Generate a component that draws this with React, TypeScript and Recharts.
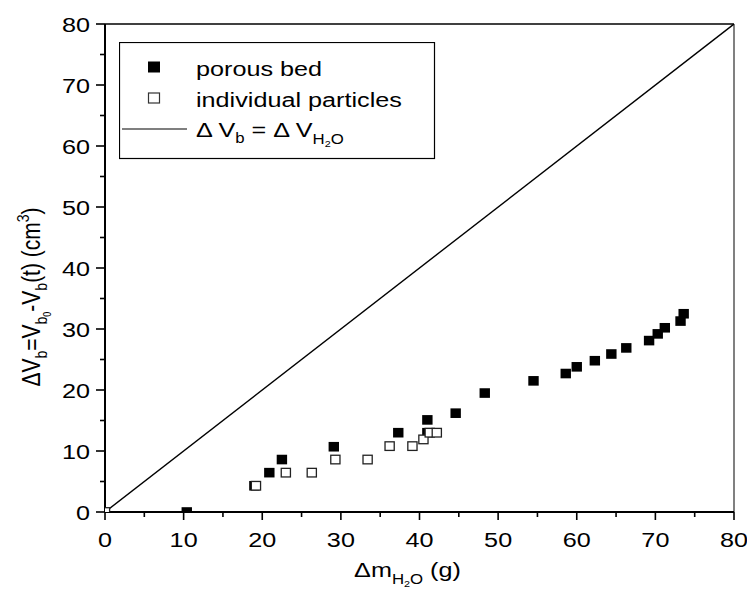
import React from "react";
import {
  ScatterChart,
  Scatter,
  XAxis,
  YAxis,
  ReferenceLine,
  Legend,
} from "recharts";

// ---- data ----
const porousBedX = [10.4, 19.0, 20.9, 22.5, 29.1, 37.3, 41.0, 41.0, 44.6, 48.3, 54.5, 58.6, 60.0, 62.3, 64.4, 66.3, 69.2, 70.3, 71.2, 73.2, 73.6];
const porousBedY = [0.0, 4.3, 6.45, 8.6, 10.7, 13.0, 13.0, 15.1, 16.2, 19.5, 21.5, 22.7, 23.8, 24.8, 25.9, 26.9, 28.1, 29.2, 30.2, 31.3, 32.5];

const particlesX = [0.0, 19.2, 23.0, 26.3, 29.3, 33.4, 36.2, 39.1, 40.5, 41.3, 42.2];
const particlesY = [0.0, 4.3, 6.45, 6.45, 8.6, 8.6, 10.8, 10.8, 11.9, 13.0, 13.0];

const identityX = [0, 80];
const identityY = [0, 80];

const xTicks = [0, 5, 10, 15, 20, 25, 30, 35, 40, 45, 50, 55, 60, 65, 70, 75, 80];
const yTicks = [0, 5, 10, 15, 20, 25, 30, 35, 40, 45, 50, 55, 60, 65, 70, 75, 80];

const porousData = porousBedX.map((x, i) => ({ x, y: porousBedY[i] }));
const particlesData = particlesX.map((x, i) => ({ x, y: particlesY[i] }));
const identityData = identityX.map((x, i) => ({ x, y: identityY[i] }));

const FONT = "'Liberation Sans', Arial, Helvetica, sans-serif";
const SX = 1.2; // horizontal stretch of the original picture

const XTick = (props: any) => {
  const { x, y, payload } = props;
  const major = payload.value % 10 === 0;
  return (
    <g>
      <line x1={x} x2={x} y1={y} y2={y + (major ? 8 : 5)} stroke="#000" strokeWidth={1.6} />
      {major && (
        <text
          transform={`translate(${x},${y + 35}) scale(${SX},1)`}
          x={0}
          y={0}
          textAnchor="middle"
          fontSize={21}
          fontFamily={FONT}
          fill="#000"
        >
          {payload.value}
        </text>
      )}
    </g>
  );
};

const YTick = (props: any) => {
  const { x, y, payload } = props;
  const major = payload.value % 10 === 0;
  return (
    <g>
      <line x1={x} x2={x - (major ? 9 : 5)} y1={y} y2={y} stroke="#000" strokeWidth={1.6} />
      {major && (
        <text
          transform={`translate(${x - 15},${y + 7.5}) scale(${SX},1)`}
          x={0}
          y={0}
          textAnchor="end"
          fontSize={21}
          fontFamily={FONT}
          fill="#000"
        >
          {payload.value}
        </text>
      )}
    </g>
  );
};

const YLabel = (props: any) => {
  const vb = props.viewBox || { x: 0, y: 24, width: 105, height: 488 };
  const cx = vb.x + 40;
  const cy = vb.y + vb.height / 2 + 29;
  return (
    <text
      transform={`translate(${cx},${cy}) rotate(-90) scale(1,${SX})`}
      x={0}
      y={0}
      textAnchor="middle"
      fontSize={21}
      fontFamily={FONT}
      fill="#000"
    >
      ΔV<tspan fontSize={14} dy={6}>b</tspan>
      <tspan dy={-6}>=V</tspan>
      <tspan fontSize={14} dy={6}>b</tspan>
      <tspan fontSize={9} dy={3}>0</tspan>
      <tspan dy={-9}>-V</tspan>
      <tspan fontSize={14} dy={6}>b</tspan>
      <tspan dy={-6}>(t) (cm</tspan>
      <tspan fontSize={14} dy={-9}>3</tspan>
      <tspan dy={9}>)</tspan>
    </text>
  );
};

const XLabel = (props: any) => {
  const vb = props.viewBox || { x: 105, y: 512, width: 629, height: 77 };
  const cx = vb.x + vb.width / 2 - 12;
  const cy = vb.y + 65;
  return (
    <text
      transform={`translate(${cx},${cy}) scale(${SX},1)`}
      x={0}
      y={0}
      textAnchor="middle"
      fontSize={21}
      fontFamily={FONT}
      fill="#000"
    >
      Δm<tspan fontSize={14} dy={7}>H</tspan>
      <tspan fontSize={9} dy={3}>2</tspan>
      <tspan fontSize={14} dy={-3}>O</tspan>
      <tspan fontSize={21} dy={-7}> (g)</tspan>
    </text>
  );
};

const FilledSquare = (props: any) => {
  const { cx, cy } = props;
  if (cx == null || cy == null) return <g />;
  return <rect x={cx - 5.2} y={cy - 4.8} width={10.4} height={9.6} fill="#000" stroke="none" />;
};

const OpenSquare = (props: any) => {
  const { cx, cy } = props;
  if (cx == null || cy == null) return <g />;
  return (
    <rect x={cx - 4.6} y={cy - 4.3} width={9.2} height={8.6} fill="#fff" stroke="#222" strokeWidth={1.3} />
  );
};

const NoShape = () => <g />;

const LegendBox = () => (
  <svg width={317} height={118} style={{ display: "block" }}>
    <rect x={0.5} y={0.5} width={315} height={116} fill="#fff" stroke="#000" strokeWidth={1.2} />
    <rect x={29} y={19.5} width={12} height={11} fill="#000" />
    <rect x={29.5} y={51} width={11} height={10} fill="#fff" stroke="#333" strokeWidth={1.2} />
    <line x1={3} x2={68} y1={87} y2={87} stroke="#000" strokeWidth={1.2} />
    <g fontSize={21} fontFamily={FONT} fill="#000">
      <text transform={`translate(77,34) scale(${SX},1)`} x={0} y={0}>porous bed</text>
      <text transform={`translate(77,65) scale(${SX},1)`} x={0} y={0}>individual particles</text>
      <text transform={`translate(77,95) scale(${SX},1)`} x={0} y={0}>
        Δ V<tspan fontSize={14} dy={6}>b</tspan>
        <tspan dy={-6}> = Δ V</tspan>
        <tspan fontSize={14} dy={7}>H</tspan>
        <tspan fontSize={9} dy={3}>2</tspan>
        <tspan fontSize={14} dy={-3}>O</tspan>
      </text>
    </g>
  </svg>
);

export default function App() {
  return (
    <div style={{ position: "absolute", left: 0, top: 0, background: "#fff" }}>
      <ScatterChart
        width={747}
        height={589}
        margin={{ top: 24, right: 13, bottom: 0, left: 0 }}
        style={{ fontFamily: FONT }}
      >
        <XAxis
          type="number"
          dataKey="x"
          domain={[0, 80]}
          ticks={xTicks}
          interval={0}
          height={77}
          tickSize={0}
          tickMargin={0}
          tickLine={false}
          tick={<XTick />}
          axisLine={{ stroke: "#000", strokeWidth: 2 }}
          allowDataOverflow
          label={<XLabel />}
        />
        <YAxis
          type="number"
          dataKey="y"
          domain={[0, 80]}
          ticks={yTicks}
          interval={0}
          width={105}
          tickSize={0}
          tickMargin={0}
          tickLine={false}
          tick={<YTick />}
          axisLine={{ stroke: "#000", strokeWidth: 2 }}
          allowDataOverflow
          label={<YLabel />}
        />
        <ReferenceLine y={80} stroke="#000" strokeWidth={1.6} />
        <ReferenceLine x={80} stroke="#808080" strokeWidth={2} />
        <Legend
          layout="vertical"
          align="center"
          verticalAlign="middle"
          wrapperStyle={{ position: "absolute", left: 119, top: 42, width: 317, height: 118 }}
          content={() => <LegendBox />}
        />
        <Scatter
          name="ΔVb = ΔVH2O"
          data={identityData}
          line={{ stroke: "#000", strokeWidth: 1.4 }}
          lineType="joint"
          shape={<NoShape />}
          isAnimationActive={false}
        />
        <Scatter name="porous bed" data={porousData} shape={<FilledSquare />} isAnimationActive={false} />
        <Scatter name="individual particles" data={particlesData} shape={<OpenSquare />} isAnimationActive={false} />
      </ScatterChart>
    </div>
  );
}
